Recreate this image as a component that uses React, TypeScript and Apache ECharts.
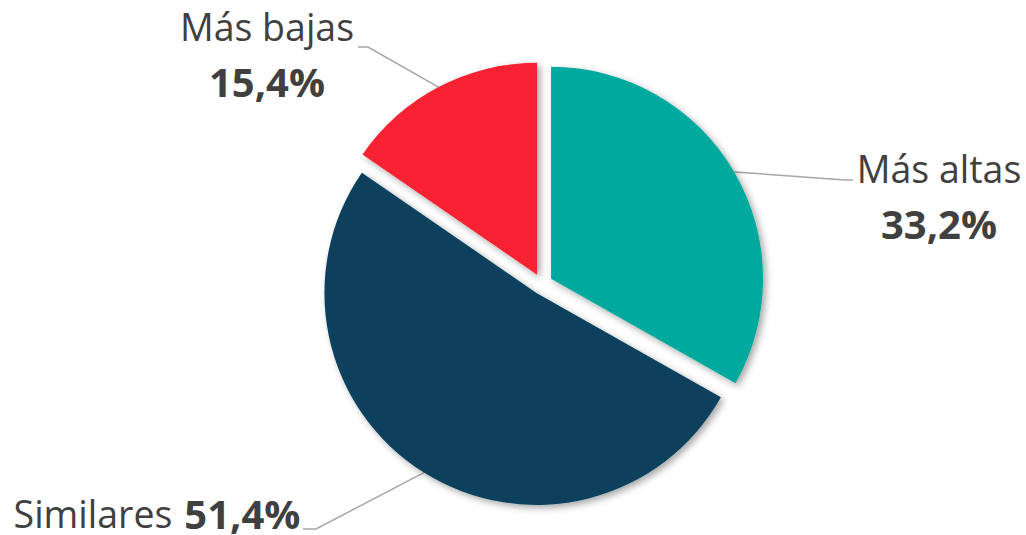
import React, { useEffect, useRef } from "react";
import * as echarts from "echarts";

const categories = ["Más altas", "Similares", "Más bajas"];
const values = [33.2, 51.4, 15.4];
const valueLabels = ["33,2%", "51,4%", "15,4%"];
const colors = ["#00A99D", "#08405C", "#F92131"];

const CX = 542;
const CY = 284;
const R = 212;
const OFFSET = 10.5;

// label placement (layout only)
const labelPlacement = [
  { x: 939, y: 196, elbow: [845, 180], end: [853, 180], stacked: true },
  { x: 157, y: 513, elbow: [316, 529], end: [303, 529], stacked: false },
  { x: 267, y: 54, elbow: [368, 47], end: [358, 47], stacked: true },
];

const FONT = "'Open Sans', 'DejaVu Sans', sans-serif";

export default function App() {
  const ref = useRef<HTMLDivElement>(null);
  useEffect(() => {
    document.body.style.margin = "0";
    if (!ref.current) return;
    const chart = echarts.init(ref.current, undefined, { renderer: "svg" });
    const total = values.reduce((a, b) => a + b, 0);
    let cum = 0;
    const series: any[] = values.map((v, i) => {
      const mid = ((cum + v / 2) / total) * Math.PI * 2;
      cum += v;
      const cx = CX + OFFSET * Math.sin(mid);
      const cy = CY - OFFSET * Math.cos(mid);
      const p = labelPlacement[i];
      const lh = p.stacked ? 55 : 30;
      return {
        type: "pie",
        center: [cx, cy],
        radius: [0, R],
        startAngle: 90,
        clockwise: true,
        avoidLabelOverlap: false,
        emphasis: { disabled: true },
        silent: true,
        z: i === 0 ? 2 : 1,
        data: values.map((vv, j) => {
          if (j !== i) {
            return {
              name: categories[j],
              value: vv,
              itemStyle: { color: "rgba(0,0,0,0)", shadowBlur: 0, shadowColor: "rgba(0,0,0,0)" },
              label: { show: false },
              labelLine: { show: false },
            };
          }
          return {
            name: categories[j],
            value: vv,
            itemStyle: {
              color: colors[j],
              shadowBlur: 7,
              shadowOffsetX: 3,
              shadowOffsetY: 3,
              shadowColor: "rgba(0,0,0,0.35)",
            },
            label: {
              show: true,
              position: "outside",
              formatter: p.stacked
                ? `{n|${categories[j]}}\n{v|${valueLabels[j]}}`
                : `{n|${categories[j]}}{v|${valueLabels[j]}}`,
              align: "center",
              rich: {
                n: { fontSize: 37.5, color: "#404040", fontFamily: FONT, lineHeight: lh },
                v: {
                  fontSize: 40,
                  fontWeight: "bold",
                  color: "#404040",
                  fontFamily: FONT,
                  lineHeight: lh,
                  padding: p.stacked ? 0 : [0, 0, 0, 12],
                },
              },
            },
            labelLine: {
              show: true,
              lineStyle: { color: "#A6A6A6", width: 1.5 },
            },
          };
        }),
        labelLayout: (params: any) => {
          if (params.dataIndex !== i) return {};
          const pts = params.labelLinePoints;
          const start = pts && pts[0] ? pts[0] : [cx, cy];
          return {
            x: p.x,
            y: p.y,
            align: "center",
            verticalAlign: "middle",
            labelLinePoints: [start, p.elbow, p.end],
          };
        },
      };
    });
    chart.setOption({
      animation: false,
      backgroundColor: "#ffffff",
      series,
    });
    return () => chart.dispose();
  }, []);
  return <div ref={ref} style={{ width: 1026, height: 535 }} />;
}
